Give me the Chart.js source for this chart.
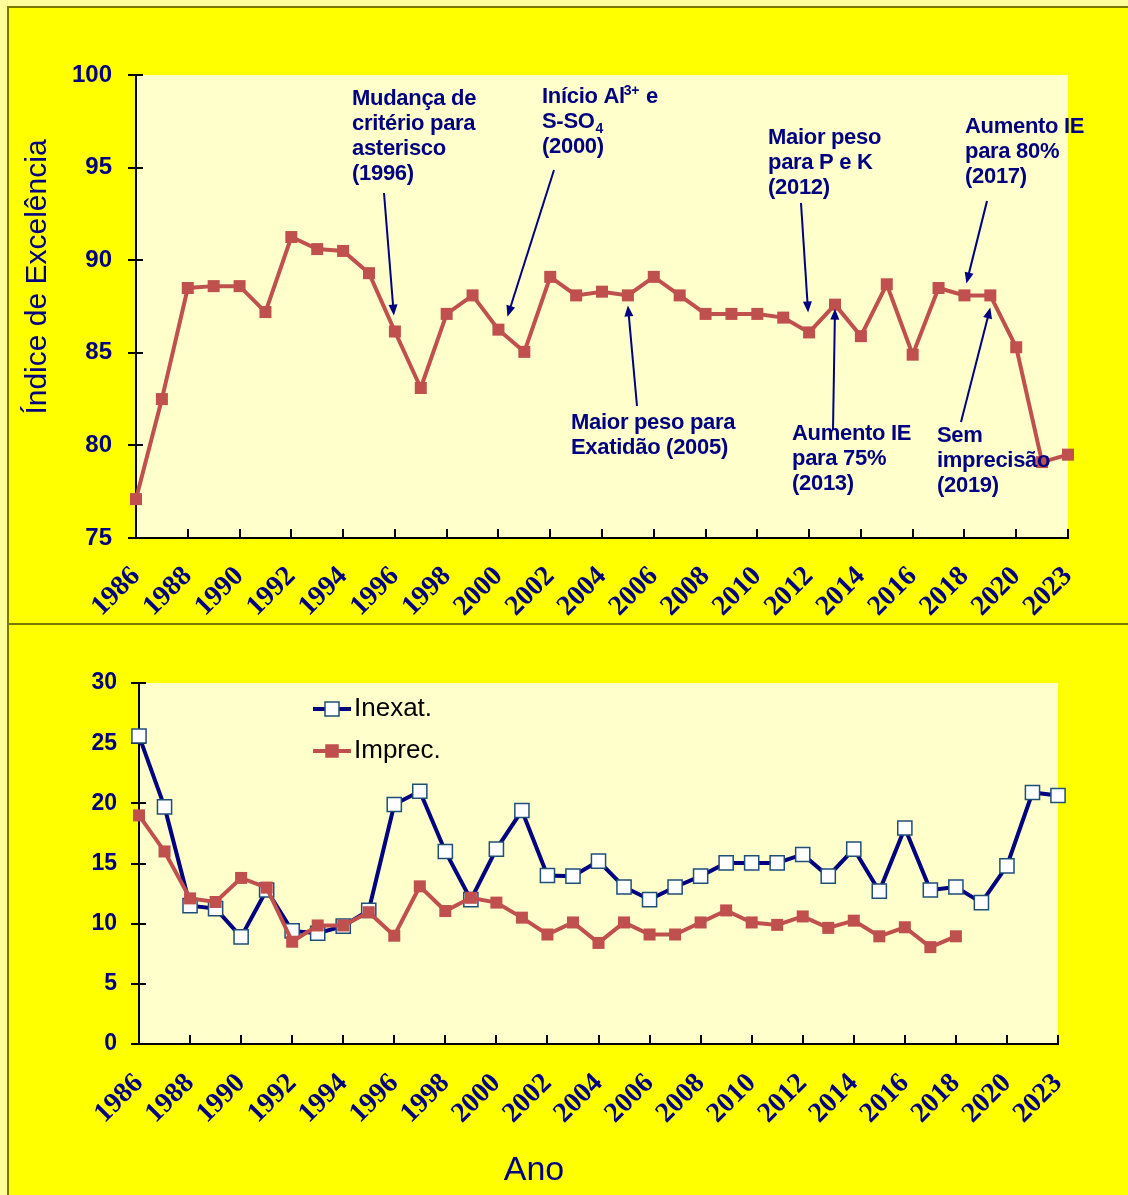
<!DOCTYPE html>
<html>
<head>
<meta charset="utf-8">
<script src="https://cdn.jsdelivr.net/npm/chart.js@4.4.1/dist/chart.umd.min.js"></script>
<style>
  html, body { margin: 0; padding: 0; }
  body { width: 1128px; height: 1195px; background: #ffff99; position: relative; overflow: hidden; }
  #frame { position: absolute; left: 7px; top: 6px; right: 0; bottom: 0; background: #ffff00;
           border-left: 2px solid #7a7a00; border-top: 2px solid #7a7a00; }
  #sep { position: absolute; left: 7px; right: 0; top: 623px; height: 2px; background: #7a7a00; }
  canvas { position: absolute; left: 0; }
  #topChart { top: 0; }
  #botChart { top: 625px; }
</style>
</head>
<body>
<div id="frame"></div>
<div id="sep"></div>
<canvas id="topChart" width="1128" height="623"></canvas>
<canvas id="botChart" width="1128" height="570"></canvas>

<script>
// categories (the last one is labelled 2023 in the source)
const years = ['1986','1987','1988','1989','1990','1991','1992','1993','1994','1995',
               '1996','1997','1998','1999','2000','2001','2002','2003','2004','2005',
               '2006','2007','2008','2009','2010','2011','2012','2013','2014','2015',
               '2016','2017','2018','2019','2020','2021','2023'];

// Índice de Excelência
const indiceExcelencia = [77.1, 82.5, 88.5, 88.6, 88.6, 87.2, 91.25, 90.6, 90.5, 89.3,
                          86.15, 83.1, 87.1, 88.1, 86.25, 85.05, 89.1, 88.1, 88.3, 88.1,
                          89.1, 88.1, 87.1, 87.1, 87.1, 86.9, 86.1, 87.6, 85.9, 88.7,
                          84.9, 88.5, 88.1, 88.1, 85.3, 79.1, 79.5];

// Inexatidão / Imprecisão
const inexat = [25.6, 19.7, 11.5, 11.25, 8.9, 12.8, 9.4, 9.2, 9.8, 11.1,
                19.9, 21.0, 16.0, 12.0, 16.2, 19.4, 14.0, 13.95, 15.2, 13.05,
                12.0, 13.05, 13.95, 15.05, 15.05, 15.05, 15.75, 13.95, 16.2, 12.7,
                17.95, 12.8, 13.05, 11.75, 14.8, 20.9, 20.65];
const imprec = [19.0, 16.0, 12.1, 11.8, 13.8, 13.0, 8.5, 9.85, 9.85, 10.95,
                9.0, 13.1, 11.05, 12.15, 11.75, 10.5, 9.1, 10.1, 8.4, 10.1,
                9.1, 9.1, 10.1, 11.1, 10.1, 9.9, 10.6, 9.65, 10.25, 8.95,
                9.7, 8.05, 8.95, null, null, null, null];

const topTicks = { min: 75, max: 100, step: 5 };
const botTicks = { min: 0, max: 30, step: 5 };

// notes on the top chart: text lines (segments: [text, 'sup'|'sub'|'']), text origin,
// arrow start, and the point the arrow aims at (index + pixel nudge)
const notes = [
  { lines: [[['Mudança de']], [['critério para']], [['asterisco']], [['(1996)']]],
    x: 352, y: 105, from: [384, 193], idx: 10, nudge: [-1, -16] },
  { lines: [[['Início Al'], ['3+', 'sup'], [' e']], [['S-SO'], ['4', 'sub']], [['(2000)']]],
    x: 542, y: 103, from: [554, 170], idx: 14, nudge: [9, -13] },
  { lines: [[['Maior peso para']], [['Exatidão (2005)']]],
    x: 571, y: 429, from: [637, 406], idx: 19, nudge: [0, 10] },
  { lines: [[['Maior peso']], [['para P e K']], [['(2012)']]],
    x: 768, y: 144, from: [801, 203], idx: 26, nudge: [-1, -20] },
  { lines: [[['Aumento IE']], [['para 75%']], [['(2013)']]],
    x: 792, y: 440, from: [833, 430], idx: 27, nudge: [0, 4] },
  { lines: [[['Aumento IE']], [['para 80%']], [['(2017)']]],
    x: 965, y: 133, from: [987, 201], idx: 32, nudge: [2, -12] },
  { lines: [[['Sem']], [['imprecisão']], [['(2019)']]],
    x: 937, y: 442, from: [961, 422], idx: 33, nudge: [0, 12] }
];

const NAVY = '#000080';
const RED = '#C0504D';
const SANS = '"Liberation Sans", Arial, sans-serif';
const SERIF = '"Liberation Serif", "Times New Roman", serif';

const plotBg = {
  id: 'plotBg',
  beforeDraw(chart) {
    const { ctx, chartArea: a } = chart;
    ctx.save();
    ctx.fillStyle = '#ffffcc';
    ctx.fillRect(a.left, a.top, a.right - a.left, a.bottom - a.top);
    ctx.restore();
  }
};

// crossing ticks on y, inward ticks every second category on x
const tickMarks = {
  id: 'tickMarks',
  beforeDatasetsDraw(chart) {
    const { ctx, chartArea: a, scales: { x, y } } = chart;
    ctx.save();
    ctx.strokeStyle = '#000';
    ctx.lineWidth = 2;
    y.ticks.forEach((t, i) => {
      const py = Math.round(y.getPixelForTick(i));
      ctx.beginPath(); ctx.moveTo(a.left - 8, py); ctx.lineTo(a.left + 7, py); ctx.stroke();
    });
    for (let i = 0; i < x.ticks.length; i += 2) {
      const px = Math.round(x.getPixelForTick(i));
      ctx.beginPath(); ctx.moveTo(px, a.bottom); ctx.lineTo(px, a.bottom - 9); ctx.stroke();
    }
    ctx.restore();
  }
};

function drawRich(ctx, segs, x, y) {
  let cx = x;
  segs.forEach(([t, mode]) => {
    if (mode === 'sup') {
      ctx.font = 'bold 14px ' + SANS;
      ctx.fillText(t, cx - 1, y - 8);
    } else if (mode === 'sub') {
      ctx.font = 'bold 14px ' + SANS;
      ctx.fillText(t, cx + 1, y + 5);
    } else {
      ctx.font = 'bold 22px ' + SANS;
      ctx.fillText(t, cx, y);
    }
    cx += ctx.measureText(t).width;
  });
}

function arrow(ctx, x0, y0, x1, y1) {
  const ang = Math.atan2(y1 - y0, x1 - x0);
  const hl = 11, hw = 4.5;
  ctx.beginPath();
  ctx.moveTo(x0, y0);
  ctx.lineTo(x1 - Math.cos(ang) * hl * 0.8, y1 - Math.sin(ang) * hl * 0.8);
  ctx.stroke();
  ctx.beginPath();
  ctx.moveTo(x1, y1);
  ctx.lineTo(x1 - hl * Math.cos(ang) + hw * Math.sin(ang), y1 - hl * Math.sin(ang) - hw * Math.cos(ang));
  ctx.lineTo(x1 - hl * Math.cos(ang) - hw * Math.sin(ang), y1 - hl * Math.sin(ang) + hw * Math.cos(ang));
  ctx.closePath();
  ctx.fill();
}

const topExtras = {
  id: 'topExtras',
  afterDatasetsDraw(chart) {
    const { ctx, scales: { x, y } } = chart;
    ctx.save();
    ctx.fillStyle = NAVY;
    ctx.strokeStyle = NAVY;
    ctx.lineWidth = 2;
    ctx.textBaseline = 'alphabetic';
    ctx.textAlign = 'left';
    ctx.letterSpacing = '-0.3px';
    notes.forEach(n => {
      n.lines.forEach((segs, i) => drawRich(ctx, segs, n.x, n.y + i * 25));
      const tx = x.getPixelForValue(n.idx) + n.nudge[0];
      const ty = y.getPixelForValue(indiceExcelencia[n.idx]) + n.nudge[1];
      arrow(ctx, n.from[0], n.from[1], tx, ty);
    });
    ctx.letterSpacing = '0px';
    // y axis title
    ctx.translate(38, 277);
    ctx.rotate(-Math.PI / 2);
    ctx.font = '30px ' + SANS;
    ctx.textAlign = 'center';
    ctx.textBaseline = 'middle';
    ctx.fillText('Índice de Excelência', 0, 0);
    ctx.restore();
  }
};

const botExtras = {
  id: 'botExtras',
  afterDatasetsDraw(chart) {
    const { ctx } = chart;
    ctx.save();
    const items = [
      { label: 'Inexat.', line: NAVY, fill: '#ffffff', edge: '#1F4E79', size: 14, y: 84 },
      { label: 'Imprec.', line: RED, fill: RED, edge: RED, size: 12, y: 126 }
    ];
    items.forEach(it => {
      ctx.strokeStyle = it.line;
      ctx.lineWidth = 4;
      ctx.beginPath(); ctx.moveTo(313, it.y); ctx.lineTo(351, it.y); ctx.stroke();
      ctx.fillStyle = it.fill;
      ctx.fillRect(332 - it.size / 2, it.y - it.size / 2, it.size, it.size);
      ctx.strokeStyle = it.edge;
      ctx.lineWidth = 1.5;
      ctx.strokeRect(332 - it.size / 2, it.y - it.size / 2, it.size, it.size);
      ctx.fillStyle = '#000';
      ctx.font = '26px ' + SANS;
      ctx.textBaseline = 'middle';
      ctx.fillText(it.label, 354, it.y);
    });
    ctx.fillStyle = NAVY;
    ctx.font = '34px ' + SANS;
    ctx.textAlign = 'center';
    ctx.textBaseline = 'alphabetic';
    ctx.fillText('Ano', 534, 555);
    ctx.restore();
  }
};

function xAxis(height, pad) {
  return {
    type: 'category',
    offset: false,
    grid: { display: false, drawTicks: false },
    border: { display: true, color: '#000', width: 2 },
    ticks: {
      autoSkip: false,
      minRotation: 45,
      maxRotation: 45,
      padding: pad,
      color: NAVY,
      font: { family: SERIF, weight: 'bold', size: 28 },
      callback: (v, i) => (i % 2 === 0 ? years[i] : '')
    },
    afterFit: s => { s.height = height; }
  };
}

function yAxis(t, width, pad, size) {
  return {
    min: t.min,
    max: t.max,
    grid: { display: false, drawTicks: false },
    border: { display: true, color: '#000', width: 2 },
    ticks: {
      stepSize: t.step,
      padding: pad,
      color: NAVY,
      font: { family: SANS, weight: 'bold', size: size }
    },
    afterFit: s => { s.width = width; }
  };
}

new Chart(document.getElementById('topChart'), {
  type: 'line',
  data: {
    labels: years,
    datasets: [{
      label: 'Índice de Excelência',
      data: indiceExcelencia,
      borderColor: RED,
      borderWidth: 4,
      pointStyle: 'rect',
      pointRadius: 8.5,
      pointBackgroundColor: RED,
      pointBorderColor: RED,
      pointBorderWidth: 0,
      tension: 0,
      clip: false
    }]
  },
  options: {
    responsive: false,
    animation: false,
    events: [],
    layout: { padding: { top: 75, right: 60, bottom: 0, left: 0 } },
    plugins: { legend: { display: false }, tooltip: { enabled: false } },
    scales: {
      x: xAxis(85, 22),
      y: yAxis(topTicks, 136, 24, 24)
    }
  },
  plugins: [plotBg, tickMarks, topExtras]
});

new Chart(document.getElementById('botChart'), {
  type: 'line',
  data: {
    labels: years,
    datasets: [
      {
        label: 'Inexat.',
        data: inexat,
        borderColor: NAVY,
        borderWidth: 4,
        pointStyle: 'rect',
        pointRadius: 10,
        pointBackgroundColor: '#ffffff',
        pointBorderColor: '#1F4E79',
        pointBorderWidth: 1.5,
        tension: 0,
        clip: false,
        order: 1
      },
      {
        label: 'Imprec.',
        data: imprec,
        borderColor: RED,
        borderWidth: 4,
        pointStyle: 'rect',
        pointRadius: 8.5,
        pointBackgroundColor: RED,
        pointBorderColor: RED,
        pointBorderWidth: 0,
        tension: 0,
        clip: false,
        order: 0
      }
    ]
  },
  options: {
    responsive: false,
    animation: false,
    events: [],
    layout: { padding: { top: 58, right: 70, bottom: 0, left: 0 } },
    plugins: { legend: { display: false }, tooltip: { enabled: false } },
    scales: {
      x: xAxis(151, 23),
      y: yAxis(botTicks, 139, 22, 23)
    }
  },
  plugins: [plotBg, tickMarks, botExtras]
});
</script>
</body>
</html>
